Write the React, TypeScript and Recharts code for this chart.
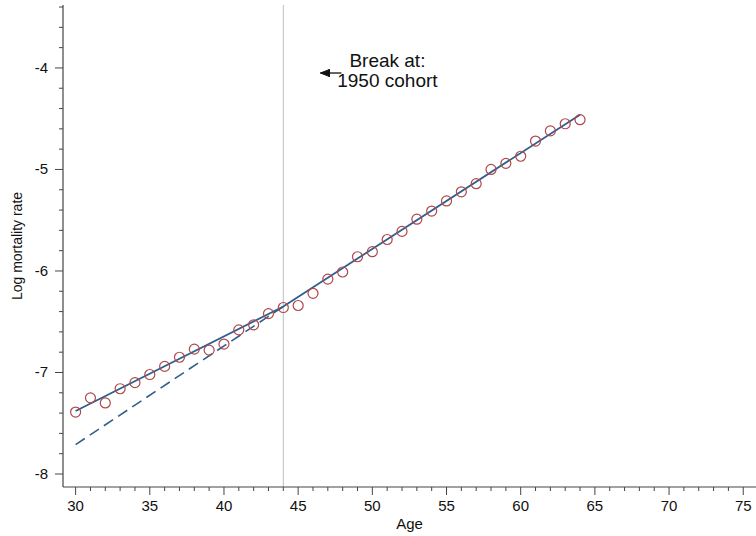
import React from "react";
import {
  ComposedChart,
  Scatter,
  Line,
  XAxis,
  YAxis,
  ReferenceLine,
  ReferenceDot,
  Label,
} from "recharts";

// observed log mortality by single year of age
const ages = [
  30, 31, 32, 33, 34, 35, 36, 37, 38, 39, 40, 41, 42, 43, 44, 45, 46,
  47, 48, 49, 50, 51, 52, 53, 54, 55, 56, 57, 58, 59, 60, 61, 62, 63, 64,
];
const logRates = [
  -7.39, -7.25, -7.3, -7.16, -7.1, -7.02, -6.94, -6.85, -6.77, -6.78,
  -6.72, -6.58, -6.53, -6.42, -6.36, -6.34, -6.22, -6.08, -6.01, -5.86,
  -5.81, -5.69, -5.61, -5.49, -5.41, -5.31, -5.22, -5.14, -5.0, -4.94,
  -4.87, -4.72, -4.62, -4.55, -4.51,
];

// piecewise fit with break at 44, and the post-break slope projected back
const fitAges = [30, 44, 64];
const fitValues = [-7.38, -6.35, -4.46];
const projAges = [30, 44];
const projValues = [-7.71, -6.35];

const breakAge = 44;
const xMajorTicks = [30, 35, 40, 45, 50, 55, 60, 65, 70, 75];
const yMajorTicks = [-8, -7, -6, -5, -4];

const xTicks = Array.from({ length: 46 }, (_, i) => 30 + i);
const yTicks = Array.from({ length: 24 }, (_, i) => Math.round((-8 + i * 0.2) * 10) / 10);

const points = ages.map((a, i) => ({ age: a, v: logRates[i] }));
const fitData = fitAges.map((a, i) => ({ age: a, v: fitValues[i] }));
const projData = projAges.map((a, i) => ({ age: a, v: projValues[i] }));

const FONT = "'Liberation Sans', Arial, Helvetica, sans-serif";
const AXIS = "#444444";
const LINE_BLUE = "#2f5f8c";
const MARKER = "#b0474b";

const XTick = ({ x, y, payload }: any) => {
  const major = xMajorTicks.includes(payload.value);
  return (
    <g>
      <line x1={x} x2={x} y1={y} y2={y + (major ? 8 : 4)} stroke={AXIS} strokeWidth={1} />
      {major && (
        <text x={x} y={y + 24} textAnchor="middle" fontSize={15} fill="#111" fontFamily={FONT}>
          {payload.value}
        </text>
      )}
    </g>
  );
};

const YTick = ({ x, y, payload }: any) => {
  const major = yMajorTicks.includes(payload.value);
  return (
    <g>
      <line x1={x - (major ? 8 : 4)} x2={x} y1={y} y2={y} stroke={AXIS} strokeWidth={1} />
      {major && (
        <text x={x - 15} y={y + 5} textAnchor="end" fontSize={15} fill="#111" fontFamily={FONT}>
          {payload.value}
        </text>
      )}
    </g>
  );
};

const Ring = ({ cx, cy }: any) => (
  <circle cx={cx} cy={cy} r={5} fill="none" stroke={MARKER} strokeWidth={1.2} />
);

// arrow + "Break at:" note, anchored at the arrow tip
const BreakNote = ({ cx, cy }: any) => (
  <g fontFamily={FONT} fontSize={19} fill="#111">
    <line x1={cx} x2={cx + 21} y1={cy} y2={cy} stroke="#111" strokeWidth={1.3} />
    <polygon
      points={`${cx},${cy} ${cx + 9},${cy - 3.5} ${cx + 9},${cy + 3.5}`}
      fill="#111"
      stroke="#111"
      strokeWidth={1}
    />
    <line x1={cx + 9} x2={cx + 9} y1={cy - 4} y2={cy + 4} stroke="#111" strokeWidth={1.2} />
    <text x={cx + 67} y={cy - 6} textAnchor="middle">Break at:</text>
    <text x={cx + 67} y={cy + 14} textAnchor="middle">1950 cohort</text>
  </g>
);

export default function App() {
  return (
    <div style={{ position: "absolute", left: 0, top: 0, background: "#fff" }}>
      <ComposedChart
        width={756}
        height={536}
        margin={{ top: 5, right: 0, bottom: 0, left: 0 }}
      >
        <XAxis
          type="number"
          dataKey="age"
          domain={[29.15, 75.86]}
          allowDataOverflow
          ticks={xTicks}
          interval={0}
          tick={<XTick />}
          tickLine={false}
          tickSize={0}
          tickMargin={0}
          axisLine={{ stroke: AXIS, strokeWidth: 1.2 }}
          height={49}
        >
          <Label
            content={(p: any) => {
              const vb = p.viewBox || { x: 63, y: 487, width: 693, height: 49 };
              return (
                <text x={vb.x + vb.width / 2} y={vb.y + 42} textAnchor="middle" fontSize={15} fill="#111" fontFamily={FONT}>
                  Age
                </text>
              );
            }}
          />
        </XAxis>
        <YAxis
          type="number"
          dataKey="v"
          domain={[-8.128, -3.38]}
          allowDataOverflow
          ticks={yTicks}
          interval={0}
          tick={<YTick />}
          tickLine={false}
          tickSize={0}
          tickMargin={0}
          axisLine={{ stroke: AXIS, strokeWidth: 1.2 }}
          width={63}
        >
          <Label
            content={(p: any) => {
              const vb = p.viewBox || { x: 0, y: 5, width: 63, height: 482 };
              const lx = vb.x + 17;
              const ly = vb.y + vb.height / 2;
              return (
                <text
                  x={lx}
                  y={ly}
                  transform={`rotate(-90 ${lx} ${ly})`}
                  textAnchor="middle"
                  dominantBaseline="central"
                  fontSize={14}
                  fill="#111"
                  fontFamily={FONT}
                >
                  Log mortality rate
                </text>
              );
            }}
          />
        </YAxis>
        <ReferenceLine x={breakAge} stroke="#bdbdbd" strokeWidth={1} />
        <Line
          data={projData}
          dataKey="v"
          type="linear"
          stroke={LINE_BLUE}
          strokeWidth={1.6}
          strokeDasharray="11 6"
          dot={false}
          activeDot={false}
          isAnimationActive={false}
        />
        <Line
          data={fitData}
          dataKey="v"
          type="linear"
          stroke={LINE_BLUE}
          strokeWidth={1.8}
          dot={false}
          activeDot={false}
          isAnimationActive={false}
        />
        <Scatter data={points} dataKey="v" shape={<Ring />} isAnimationActive={false} />
        <ReferenceDot x={46.5} y={-4.05} r={0} shape={<BreakNote />} />
      </ComposedChart>
    </div>
  );
}
